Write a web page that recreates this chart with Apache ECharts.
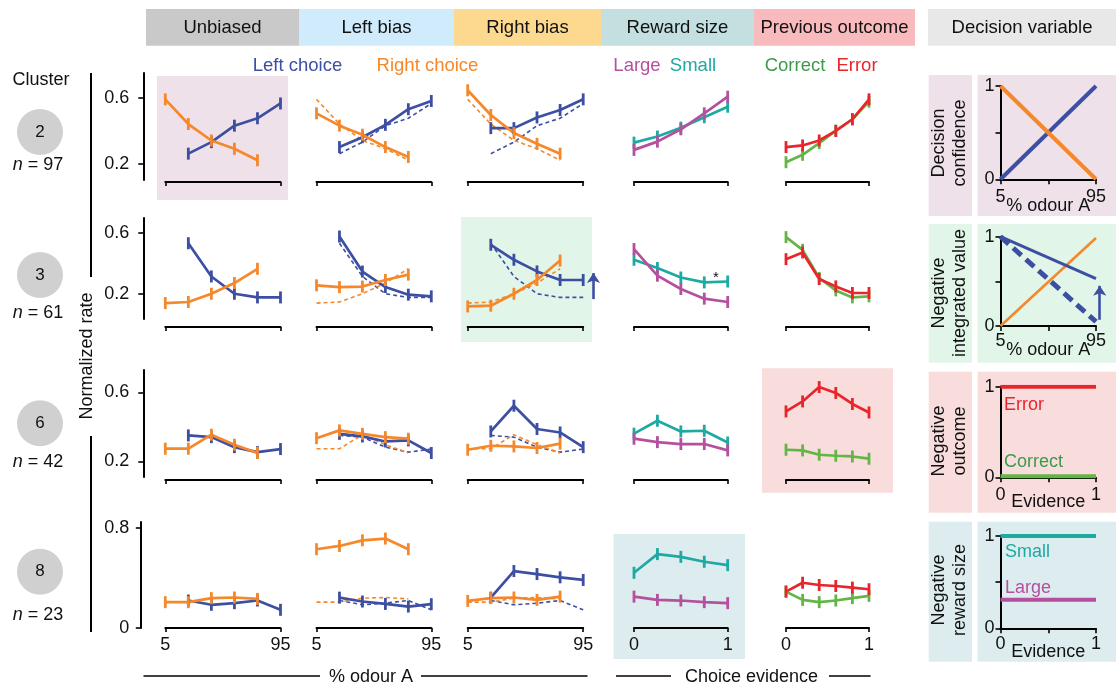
<!DOCTYPE html>
<html><head><meta charset="utf-8">
<script src="https://cdn.jsdelivr.net/npm/echarts@6/dist/echarts.min.js"></script>
<style>html,body{margin:0;padding:0;background:#fff}#c{width:1116px;height:685px}</style>
</head><body><div id="c"></div>
<script>
// ---------------- DATA ----------------
const odourLeft = [23, 41, 59, 77, 95];      // left-choice trials
const odourRight = [5, 23, 41, 59, 77];      // right-choice trials
const evidenceReward = [0, 0.25, 0.5, 0.75, 1];
const evidenceOutcome = [0, 0.2, 0.4, 0.6, 0.8, 1];
const clusterIds = ['2', '3', '6', '8'];
const clusterSizes = [97, 61, 42, 23];
const conditionNames = ['Unbiased', 'Left bias', 'Right bias', 'Reward size', 'Previous outcome'];
const rateTickValues = [[0.2, 0.6], [0.2, 0.6], [0.2, 0.6], [0, 0.8]];
const odourTickLabels = [5, 95];
const evidenceTickLabels = [0, 1];

// cluster 2
const c2UnbiasedLeft = [0.26, 0.33, 0.43, 0.475, 0.565];
const c2UnbiasedRight = [0.59, 0.44, 0.34, 0.29, 0.22];
const c2LeftBiasLeft = [0.30, 0.36, 0.435, 0.53, 0.58];
const c2LeftBiasRight = [0.505, 0.43, 0.375, 0.30, 0.24];
const c2RightBiasLeft = [0.415, 0.415, 0.48, 0.525, 0.59];
const c2RightBiasRight = [0.645, 0.495, 0.385, 0.32, 0.26];
const c2Large = [0.283, 0.333, 0.408, 0.505, 0.606];
const c2Small = [0.327, 0.364, 0.418, 0.481, 0.545];
const c2Correct = [0.208, 0.253, 0.324, 0.40, 0.469, 0.576];
const c2Error = [0.30, 0.31, 0.34, 0.398, 0.469, 0.59];
// cluster 3
const c3UnbiasedLeft = [0.53, 0.313, 0.20, 0.176, 0.176];
const c3UnbiasedRight = [0.139, 0.146, 0.20, 0.27, 0.363];
const c3LeftBiasLeft = [0.574, 0.345, 0.244, 0.194, 0.183];
const c3LeftBiasRight = [0.255, 0.243, 0.247, 0.29, 0.325];
const c3RightBiasLeft = [0.52, 0.422, 0.346, 0.29, 0.29];
const c3RightBiasRight = [0.117, 0.122, 0.20, 0.29, 0.417];
const c3Large = [0.492, 0.318, 0.231, 0.168, 0.146];
const c3Small = [0.422, 0.368, 0.306, 0.274, 0.28];
const c3Correct = [0.57, 0.487, 0.303, 0.222, 0.176, 0.183];
const c3Error = [0.426, 0.47, 0.296, 0.248, 0.205, 0.205];
// cluster 6
const c6UnbiasedLeft = [0.351, 0.341, 0.283, 0.254, 0.272];
const c6UnbiasedRight = [0.274, 0.274, 0.355, 0.297, 0.249];
const c6LeftBiasLeft = [0.36, 0.345, 0.316, 0.322, 0.249];
const c6LeftBiasRight = [0.335, 0.38, 0.36, 0.341, 0.332];
const c6RightBiasLeft = [0.374, 0.523, 0.388, 0.368, 0.283];
const c6RightBiasRight = [0.268, 0.291, 0.287, 0.278, 0.303];
const c6Large = [0.332, 0.312, 0.301, 0.301, 0.264];
const c6Small = [0.361, 0.436, 0.374, 0.378, 0.31];
const c6Correct = [0.268, 0.264, 0.239, 0.233, 0.229, 0.216];
const c6Error = [0.49, 0.548, 0.631, 0.597, 0.533, 0.484];
// cluster 8
const c8UnbiasedLeft = [0.219, 0.185, 0.198, 0.219, 0.145];
const c8UnbiasedRight = [0.206, 0.206, 0.238, 0.243, 0.232];
const c8LeftBiasLeft = [0.242, 0.211, 0.192, 0.171, 0.19];
const c8LeftBiasRight = [0.628, 0.654, 0.699, 0.713, 0.628];
const c8RightBiasLeft = [0.242, 0.454, 0.43, 0.404, 0.383];
const c8RightBiasRight = [0.216, 0.238, 0.243, 0.224, 0.25];
const c8Large = [0.25, 0.224, 0.219, 0.206, 0.198];
const c8Small = [0.44, 0.589, 0.567, 0.528, 0.501];
const c8Correct = [0.29, 0.224, 0.206, 0.219, 0.238, 0.256];
const c8Error = [0.29, 0.361, 0.343, 0.335, 0.322, 0.309];

// arrow annotation (cluster 3, right bias): odour position and rate span
const arrowOdour = 103;
const arrowRates = [0.165, 0.335];

// decision-variable models
const dvOdour = [5, 95];
const dvEvidence = [0, 1];
const dvConfidenceLeft = [0, 1];
const dvConfidenceRight = [1, 0];
const dvIntegratedLeftBiased = [1, 0.53];
const dvIntegratedLeftUnbiased = [1, 0.048];
const dvIntegratedRight = [0, 0.985];
const dvArrowOdour = 98.5;
const dvArrowValues = [0.07, 0.45];
const dvError = [1, 1];
const dvCorrect = [0.012, 0.012];
const dvSmall = [1, 1];
const dvLarge = [0.31, 0.31];

// ---------------- STYLE / LAYOUT ----------------
const F = '"Liberation Sans", Arial, Helvetica, sans-serif';
const BLUE = '#3d4fa3', ORANGE = '#f5882b', MAGENTA = '#b5509f', TEAL = '#1ea9a3',
      GREEN = '#63b646', GREEN_TXT = '#3c9a4a', RED = '#e8252c';
const FS = 18;

const clusters = [
  {uL: c2UnbiasedLeft, uR: c2UnbiasedRight, lL: c2LeftBiasLeft, lR: c2LeftBiasRight, rL: c2RightBiasLeft, rR: c2RightBiasRight, large: c2Large, small: c2Small, correct: c2Correct, error: c2Error},
  {uL: c3UnbiasedLeft, uR: c3UnbiasedRight, lL: c3LeftBiasLeft, lR: c3LeftBiasRight, rL: c3RightBiasLeft, rR: c3RightBiasRight, large: c3Large, small: c3Small, correct: c3Correct, error: c3Error},
  {uL: c6UnbiasedLeft, uR: c6UnbiasedRight, lL: c6LeftBiasLeft, lR: c6LeftBiasRight, rL: c6RightBiasLeft, rR: c6RightBiasRight, large: c6Large, small: c6Small, correct: c6Correct, error: c6Error},
  {uL: c8UnbiasedLeft, uR: c8UnbiasedRight, lL: c8LeftBiasLeft, lR: c8LeftBiasRight, rL: c8RightBiasLeft, rR: c8RightBiasRight, large: c8Large, small: c8Small, correct: c8Correct, error: c8Error}
];

const rowLayout = [
  {top: 73, bottom: 180, min: 0.1, max: 0.75, xOff: 2, yOff: 22, lm: 14},
  {top: 218, bottom: 319, min: 0.035, max: 0.695, xOff: 8, yOff: 22, lm: 14},
  {top: 370, bottom: 477, min: 0.11, max: 0.73, xOff: 3, yOff: 22, lm: 14},
  {top: 522, bottom: 628, min: 0, max: 0.845, xOff: 0, yOff: 24.5, lm: 11.5}
];
const colLayout = [
  {left: 165.3, right: 280.5, min: 5, max: 95, labels: odourTickLabels},
  {left: 316.5, right: 431.3, min: 5, max: 95, labels: odourTickLabels},
  {left: 467.7, right: 583.2, min: 5, max: 95, labels: odourTickLabels},
  {left: 634, right: 727.7, min: 0, max: 1, labels: evidenceTickLabels},
  {left: 786, right: 869, min: 0, max: 1, labels: evidenceTickLabels}
];

const grids = [], xAxes = [], yAxes = [], series = [], graphics = [];
function addGrid(g, xa, ya) {
  g.outerBoundsMode = 'none';
  grids.push(g);
  const i = grids.length - 1;
  xa.gridIndex = i; ya.gridIndex = i;
  xAxes.push(xa); yAxes.push(ya);
  return i;
}
function pairs(xs, ys) { return xs.map((x, i) => [x, ys[i]]); }
function line(gi, xs, ys, color, dashed) {
  return {
    type: 'line', xAxisIndex: gi, yAxisIndex: gi, data: pairs(xs, ys),
    silent: true, animation: false,
    lineStyle: {color, width: dashed ? 1.6 : 2.7, type: dashed ? [4, 3] : 'solid'},
    itemStyle: {color},
    symbol: dashed ? 'none' : 'rect', symbolSize: [2.8, 12], showSymbol: !dashed,
    z: dashed ? 2 : 3
  };
}
function arrow(gi, x, ys) {
  return {
    type: 'lines', coordinateSystem: 'cartesian2d', xAxisIndex: gi, yAxisIndex: gi,
    clip: false, silent: true, animation: false, symbol: ['none', 'arrow'], symbolSize: 10,
    lineStyle: {color: BLUE, width: 2.6, opacity: 1, curveness: 0},
    data: [{coords: [[x, ys[0]], [x, ys[1]]]}], z: 5
  };
}

// --------- small panels ----------
rowLayout.forEach((row, r) => {
  const d = clusters[r];
  colLayout.forEach((col, c) => {
    const xa = {
      type: 'value', min: col.min, max: col.max, offset: row.xOff,
      axisLine: {show: true, onZero: false, lineStyle: {color: '#000', width: 2}},
      axisTick: {show: true, customValues: [col.min, col.max], length: 4, inside: false, lineStyle: {color: '#000', width: 1.6}},
      axisLabel: {show: r === 3, customValues: col.labels, fontSize: FS, color: '#111', fontFamily: F, margin: 8},
      splitLine: {show: false}
    };
    const ya = c === 0 ? {
      type: 'value', min: row.min, max: row.max, offset: row.yOff,
      axisLine: {show: true, onZero: false, lineStyle: {color: '#000', width: 2}},
      axisTick: {show: true, customValues: rateTickValues[r], length: 5, lineStyle: {color: '#000', width: 1.6}},
      axisLabel: {customValues: rateTickValues[r], fontSize: FS, color: '#111', fontFamily: F, margin: row.lm},
      splitLine: {show: false}
    } : {type: 'value', min: row.min, max: row.max, show: false, splitLine: {show: false}};
    const gi = addGrid({left: col.left, top: row.top, width: col.right - col.left, height: row.bottom - row.top}, xa, ya);
    if (c === 0) {
      series.push(line(gi, odourLeft, d.uL, BLUE));
      series.push(line(gi, odourRight, d.uR, ORANGE));
    } else if (c === 1 || c === 2) {
      series.push(line(gi, odourLeft, d.uL, BLUE, true));
      series.push(line(gi, odourRight, d.uR, ORANGE, true));
      const L = c === 1 ? d.lL : d.rL, R = c === 1 ? d.lR : d.rR;
      series.push(line(gi, odourLeft, L, BLUE));
      series.push(line(gi, odourRight, R, ORANGE));
      if (r === 1 && c === 2) series.push(arrow(gi, arrowOdour, arrowRates));
    } else if (c === 3) {
      series.push(line(gi, evidenceReward, d.small, TEAL));
      series.push(line(gi, evidenceReward, d.large, MAGENTA));
    } else {
      series.push(line(gi, evidenceOutcome, d.correct, GREEN));
      series.push(line(gi, evidenceOutcome, d.error, RED));
    }
  });
});

// --------- decision variable panels ----------
const dvRows = [
  {top: 86, bottom: 179.3, min: 5, max: 95, ticks: [5, 50, 95], labels: [5, 95], name: '% odour A', yTicks: [0, 0.5, 1], gap: 18, lm: 9},
  {top: 236.7, bottom: 326, min: 5, max: 95, ticks: [5, 50, 95], labels: [5, 95], name: '% odour A', yTicks: [0, 0.5, 1], gap: 15.5, lm: 6},
  {top: 386.7, bottom: 477.3, min: 0, max: 1, ticks: [0, 0.5, 1], labels: [0, 1], name: 'Evidence', yTicks: [0, 1], gap: 15.5, lm: 9},
  {top: 536, bottom: 628.3, min: 0, max: 1, ticks: [0, 0.5, 1], labels: [0, 1], name: 'Evidence', yTicks: [0, 0.5, 1], gap: 14.5, lm: 7}
];
function dvLine(gi, xs, ys, color, width, dash) {
  return {type: 'line', xAxisIndex: gi, yAxisIndex: gi, data: pairs(xs, ys), symbol: 'none',
    silent: true, animation: false, lineStyle: {color, width, type: dash || 'solid'}, itemStyle: {color}};
}
dvRows.forEach((row, r) => {
  const xa = {
    type: 'value', min: row.min, max: row.max,
    name: row.name, nameLocation: 'middle', nameGap: row.gap, nameMoveOverlap: false,
    nameTextStyle: {fontSize: FS, color: '#111', fontFamily: F},
    axisLine: {show: true, onZero: false, lineStyle: {color: '#000', width: 2}},
    axisTick: {show: true, customValues: row.ticks, length: 5, lineStyle: {color: '#000', width: 1.6}},
    axisLabel: {customValues: row.labels, fontSize: FS, color: '#111', fontFamily: F, margin: row.lm},
    splitLine: {show: false}
  };
  const ya = {
    type: 'value', min: 0, max: 1,
    axisLine: {show: true, onZero: false, lineStyle: {color: '#000', width: 2}},
    axisTick: {show: true, customValues: row.yTicks, length: 5, lineStyle: {color: '#000', width: 1.6}},
    axisLabel: {customValues: [0, 1], fontSize: FS, color: '#111', fontFamily: F, margin: 6},
    splitLine: {show: false}
  };
  const gi = addGrid({left: 1000.5, top: row.top, width: 95.5, height: row.bottom - row.top}, xa, ya);
  if (r === 0) {
    series.push(dvLine(gi, dvOdour, dvConfidenceLeft, BLUE, 4));
    series.push(dvLine(gi, dvOdour, dvConfidenceRight, ORANGE, 4));
  } else if (r === 1) {
    series.push(dvLine(gi, dvOdour, dvIntegratedRight, ORANGE, 2.6));
    series.push(dvLine(gi, dvOdour, dvIntegratedLeftUnbiased, BLUE, 5, [11, 6]));
    series.push(dvLine(gi, dvOdour, dvIntegratedLeftBiased, BLUE, 3));
    series.push(arrow(gi, dvArrowOdour, dvArrowValues));
  } else if (r === 2) {
    series.push(dvLine(gi, dvEvidence, dvError, RED, 4));
    series.push(dvLine(gi, dvEvidence, dvCorrect, GREEN, 4));
  } else {
    series.push(dvLine(gi, dvEvidence, dvSmall, TEAL, 4));
    series.push(dvLine(gi, dvEvidence, dvLarge, MAGENTA, 4));
  }
});

// --------- graphics (backgrounds, headers, labels) ----------
function rect(x, y, w, h, fill) {
  graphics.push({type: 'rect', shape: {x, y, width: w, height: h}, style: {fill}, z: -100, silent: true});
}
function txt(x, y, t, o) {
  const st = Object.assign({text: t, fill: '#111', fontSize: FS, fontFamily: F,
    align: 'center', textAlign: 'center', verticalAlign: 'middle', textVerticalAlign: 'middle'}, o || {});
  if (o && o.align) st.textAlign = o.align;
  const el = {type: 'text', x, y, style: st, z: 100, silent: true};
  if (o && o.rot) el.rotation = o.rot;
  graphics.push(el);
}
function seg(x1, y1, x2, y2, w) {
  graphics.push({type: 'line', shape: {x1, y1, x2, y2}, style: {stroke: '#000', lineWidth: w || 2}, z: 100, silent: true});
}

// headers
const headerBoxes = [[146, 299, '#c9c9c9'], [299, 454, '#d0ebfb'], [454, 601, '#fdd98f'], [601, 754, '#c3dfe0'], [754, 915, '#f8babd']];
headerBoxes.forEach((b, i) => {
  rect(b[0], 9, b[1] - b[0], 36.7, b[2]);
  txt((b[0] + b[1]) / 2, 27.5, conditionNames[i], {fontSize: 18.5});
});
rect(928, 9, 188, 36.7, '#e8e8e8');
txt(1022, 27.5, 'Decision variable', {fontSize: 18.5});

// legends
txt(297.5, 66, 'Left choice', {fill: BLUE, fontSize: 18.5});
txt(427.5, 66, 'Right choice', {fill: ORANGE, fontSize: 18.5});
txt(637, 66, 'Large', {fill: MAGENTA, fontSize: 18.5});
txt(693, 66, 'Small', {fill: TEAL, fontSize: 18.5});
txt(795, 66, 'Correct', {fill: GREEN_TXT, fontSize: 18.5});
txt(857, 66, 'Error', {fill: RED, fontSize: 18.5});

// highlighted panels
rect(157, 76, 131, 124, '#efe1e9');
rect(461, 217, 131, 125, '#e1f6e9');
rect(762, 368.3, 131, 124.4, '#f9dcdc');
rect(613.5, 534, 131.6, 125, '#ddecee');

// cluster labels
txt(41, 80, 'Cluster');
const circleY = [132, 275, 423.3, 571.7], nY = [165, 312.7, 461.7, 615];
clusterIds.forEach((id, i) => {
  graphics.push({type: 'circle', shape: {cx: 40, cy: circleY[i], r: 23}, style: {fill: '#d0d0d0'}, z: 50, silent: true});
  txt(40, circleY[i], id, {fontSize: 17});
  txt(38, nY[i], '{i|n} = ' + clusterSizes[i], {rich: {i: {fontStyle: 'italic', fontSize: FS, fontFamily: F, fill: '#111'}}});
});

// normalized rate axis label
seg(91, 73, 91, 277, 2);
seg(91, 436, 91, 632, 2);
txt(87, 356, 'Normalized rate', {rot: Math.PI / 2});

// bottom group labels
txt(371, 677, '% odour A');
seg(143.5, 676, 320, 676, 1.4);
seg(421, 676, 587.5, 676, 1.4);
txt(751.5, 677, 'Choice evidence');
seg(616, 676, 671, 676, 1.4);
seg(829, 676, 870.6, 676, 1.4);

// significance mark
txt(716, 278, '*', {fontSize: 15});

// decision variable column
const dvBoxY = [[75, 216], [224, 362.7], [371.7, 512.7], [521.7, 661.7]];
const dvFills = ['#efe1e9', '#e1f6e9', '#f9dcdc', '#ddecee'];
const dvTitles = ['Decision\nconfidence', 'Negative\nintegrated value', 'Negative\noutcome', 'Negative\nreward size'];
const dvTitleY = [143, 293, 441, 590];
dvBoxY.forEach((b, i) => {
  rect(928.7, b[0], 43.3, b[1] - b[0], dvFills[i]);
  rect(977.6, b[0], 138.4, b[1] - b[0], dvFills[i]);
  txt(950, dvTitleY[i], dvTitles[i], {rot: Math.PI / 2, lineHeight: 21});
});
txt(1004, 405, 'Error', {fill: RED, align: 'left'});
txt(1004, 462, 'Correct', {fill: GREEN_TXT, align: 'left'});
txt(1005, 552, 'Small', {fill: TEAL, align: 'left'});
txt(1005, 588, 'Large', {fill: MAGENTA, align: 'left'});

const chart = echarts.init(document.getElementById('c'), null, {renderer: 'canvas'});
chart.setOption({
  animation: false,
  textStyle: {fontFamily: F},
  grid: grids, xAxis: xAxes, yAxis: yAxes, series,
  graphic: {elements: graphics}
});
</script></body></html>
